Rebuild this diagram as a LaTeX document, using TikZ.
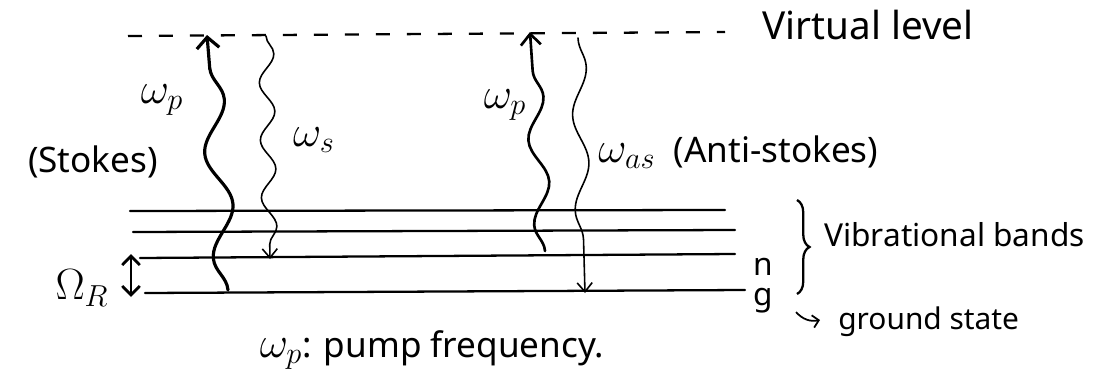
\documentclass[tikz,border=0pt]{standalone}
\usepackage{fontspec}
\setmainfont{Noto Sans}
\usetikzlibrary{decorations.pathmorphing,decorations.pathreplacing,arrows.meta}
\begin{document}
\begin{tikzpicture}[x=0.02cm,y=-0.02cm,
  lbl/.style={inner sep=0pt, font=\fontsize{20}{22}\selectfont},
  biglbl/.style={inner sep=0pt, font=\fontsize{25}{27}\selectfont},
  small/.style={inner sep=0pt, font=\fontsize{17}{19}\selectfont},
  levelline/.style={line width=1.3pt, line cap=round},
  virt/.style={line width=1.3pt, dash pattern=on 0.28cm off 0.34cm},
  pumpwave/.style={line width=1.8pt, line cap=round, -{Straight Barb[length=2.2mm,width=4.5mm]},
    decorate, decoration={snake, segment length=2.1cm, amplitude=0.24cm, post length=2.5mm}},
  pumpwaveB/.style={line width=1.5pt, line cap=round, -{Straight Barb[length=2.2mm,width=4mm]},
    decorate, decoration={snake, segment length=1.7cm, amplitude=0.18cm, post length=2.5mm}},
  emitwave/.style={line width=0.9pt, line cap=round, -{Straight Barb[length=1.8mm,width=3mm]},
    decorate, decoration={snake, segment length=1.15cm, amplitude=0.15cm, post length=2mm}},
  emitwaveB/.style={line width=0.9pt, line cap=round, -{Straight Barb[length=1.8mm,width=3mm]},
    decorate, decoration={snake, segment length=1.9cm, amplitude=0.15cm, post length=2mm}}
]
\useasboundingbox (0,0) rectangle (1100,379);

% level endpoints
\coordinate (vL) at (128,36); \coordinate (vR) at (725,32);
\coordinate (l1L) at (130,211); \coordinate (l1R) at (725,210);
\coordinate (l2L) at (133,232); \coordinate (l2R) at (735,230);
\coordinate (nL) at (140,258); \coordinate (nR) at (735,254);
\coordinate (gL) at (145,293); \coordinate (gR) at (745,290);

\draw[virt] (vL) -- (vR);
\draw[levelline] (l1L) -- (l1R);
\draw[levelline] (l2L) -- (l2R);
\draw[levelline] (nL) -- (nR);
\draw[levelline] (gL) -- (gR);

% transitions
\coordinate (p1s) at (228,290); \coordinate (p1e) at (207,35);
\coordinate (s1s) at (266,36);  \coordinate (s1e) at (270,259);
\coordinate (p2s) at (545,251); \coordinate (p2e) at (530,32);
\coordinate (a2s) at (578,38);  \coordinate (a2e) at (585,293);

\draw[pumpwave] (p1s) -- (p1e);
\draw[emitwave] (s1s) -- (s1e);
\draw[pumpwaveB] (p2s) -- (p2e);
\draw[emitwaveB] (a2s) -- (a2e);

% Omega_R arrow
\coordinate (oT) at (131,254); \coordinate (oB) at (131,297);
\draw[line width=1.6pt, {Straight Barb[length=1.8mm,width=3.5mm]}-{Straight Barb[length=1.8mm,width=3.5mm]}] (oT) -- (oB);

% brace
\coordinate (bT) at (797,200); \coordinate (bB) at (797,294);
\draw[line width=1.3pt, decorate, decoration={brace, amplitude=0.25cm}] (bT) -- (bB);

% ground-state arrow
\coordinate (gaS) at (796,312); \coordinate (gaE) at (820,320);
\draw[line width=1pt, -{Straight Barb[length=1.2mm,width=2.5mm]}] (gaS) to[bend right=30] (gaE);

% labels
\node[lbl, font=\fontsize{22}{24}\selectfont] (virtual) at (868,25) {Virtual level};
\node[biglbl] (wp1) at (162,100) {$\omega_p$};
\node[lbl] (stokes) at (93,162) {(Stokes)};
\node[biglbl] (ws) at (314,140) {$\omega_s$};
\node[biglbl] (wp2) at (505,105) {$\omega_p$};
\node[lbl, anchor=west] (was) at (598,152) {{\fontsize{25}{27}\selectfont$\omega_{as}$}\ \ (Anti-stokes)};
\node[lbl, font=\fontsize{18}{20}\selectfont, anchor=west] (vib) at (824,235) {Vibrational bands};
\node[lbl, font=\fontsize{18}{20}\selectfont] (n) at (763,267) {n};
\node[lbl, font=\fontsize{18}{20}\selectfont] (g) at (763,301) {g};
\node[small, anchor=west] (gs) at (838,322) {ground state};
\node[lbl] (pump) at (432,350) {{\fontsize{25}{27}\selectfont$\omega_p$}: pump frequency.};
\node[biglbl] (OR) at (82,288) {$\Omega_R$};
\end{tikzpicture}
\end{document}
